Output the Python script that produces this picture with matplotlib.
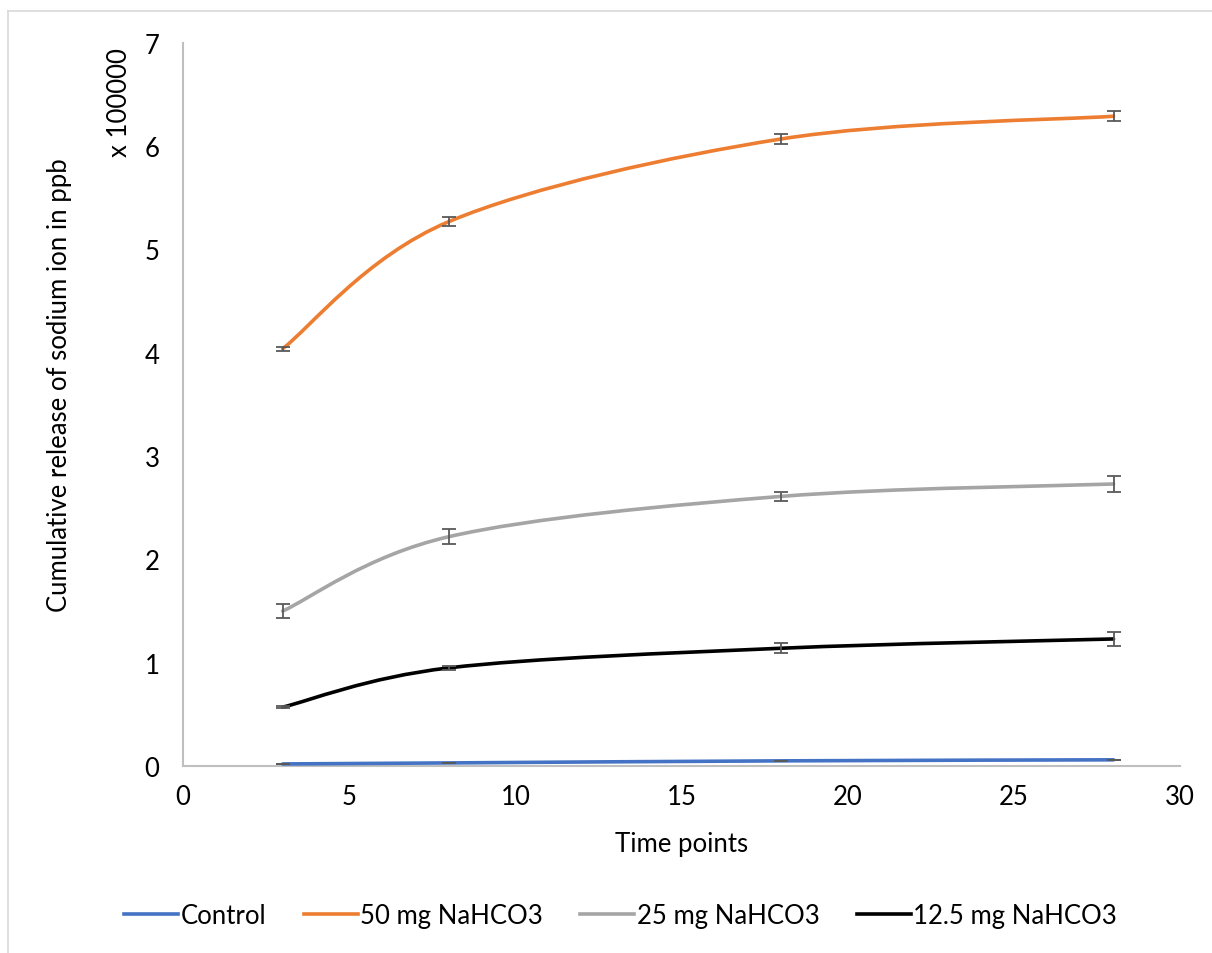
import numpy as np
import matplotlib
matplotlib.use("Agg")
import matplotlib.pyplot as plt
from matplotlib.path import Path
from matplotlib.patches import PathPatch
from matplotlib.lines import Line2D

plt.rcParams['font.family'] = ['Lato', 'DejaVu Sans']

# Данные (в единицах x 100000 ppb)
time_points = [3, 8, 18, 28]
control = [0.02, 0.03, 0.05, 0.06]
mg50 = [4.04, 5.27, 6.07, 6.29]
mg25 = [1.50, 2.22, 2.61, 2.73]
mg12 = [0.57, 0.95, 1.14, 1.23]

err_control = [0.0, 0.0, 0.0, 0.0]
err_mg50 = [0.02, 0.04, 0.05, 0.05]
err_mg25 = [0.07, 0.07, 0.04, 0.08]
err_mg12 = [0.01, 0.02, 0.05, 0.07]

labels = ['Control', '50 mg NaHCO3', '25 mg NaHCO3', '12.5 mg NaHCO3']
colors = ['#4472C4', '#ED7D31', '#A5A5A5', '#000000']

FS = 18.5


def smooth_path(x, y):
    # Сглаженная линия как в Excel: кривые Безье между точками
    pts = np.column_stack([x, y]).astype(float)
    n = len(pts)
    verts = [pts[0]]
    codes = [Path.MOVETO]
    for i in range(n - 1):
        p0 = pts[i - 1] if i > 0 else pts[i]
        p1 = pts[i]
        p2 = pts[i + 1]
        p3 = pts[i + 2] if i + 2 < n else pts[i + 1]
        c1 = p1 + (p2 - p0) / 6.0
        c2 = p2 - (p3 - p1) / 6.0
        verts += [c1, c2, p2]
        codes += [Path.CURVE4] * 3
    return Path(verts, codes)


fig = plt.figure(figsize=(12.12, 9.54), dpi=100)
ax = fig.add_axes([0.151, 0.196, 0.8226, 0.758])

series = [control, mg50, mg25, mg12]
errors = [err_control, err_mg50, err_mg25, err_mg12]

handles = []
for vals, errs, col, lab in zip(series, errors, colors, labels):
    patch = PathPatch(smooth_path(time_points, vals), facecolor='none',
                      edgecolor=col, lw=2.6, capstyle='round', zorder=3)
    ax.add_patch(patch)
    ax.errorbar(time_points, vals, yerr=errs, fmt='none', ecolor='#595959',
                elinewidth=1.3, capsize=5, capthick=1.3, zorder=4)
    handles.append(Line2D([0], [0], color=col, lw=2.6))

ax.set_xlim(0, 30)
ax.set_ylim(0, 7)
ax.set_xticks(range(0, 31, 5))
ax.set_yticks(range(0, 8))
ax.tick_params(length=0, labelsize=FS)
ax.tick_params(axis='y', pad=17)
ax.tick_params(axis='x', pad=13)
for s in ['top', 'right']:
    ax.spines[s].set_visible(False)
for s in ['left', 'bottom']:
    ax.spines[s].set_color('#BFBFBF')
    ax.spines[s].set_linewidth(1.5)

ax.set_xlabel('Time points', fontsize=FS, labelpad=16)
fig.text(0.0495, 0.596, 'Cumulative release of sodium ion in ppb', rotation=90,
         fontsize=FS, ha='center', va='center')
fig.text(0.099, 0.893, 'x 100000', rotation=90, fontsize=FS,
         ha='center', va='center')

fig.legend(handles, labels, loc='center', bbox_to_anchor=(0.512, 0.039),
           ncol=4, frameon=False, fontsize=FS, handlelength=2.1,
           handletextpad=0.1, columnspacing=1.45)

# Рамка области диаграммы (обрезана справа и снизу)
fig.add_artist(Line2D([8 / 1212, 8 / 1212], [0, 1 - 12 / 954],
                      color='#D9D9D9', lw=1.2, transform=fig.transFigure))
fig.add_artist(Line2D([8 / 1212, 1], [1 - 12 / 954, 1 - 12 / 954],
                      color='#D9D9D9', lw=1.2, transform=fig.transFigure))

fig.savefig('out.png', dpi=100)
